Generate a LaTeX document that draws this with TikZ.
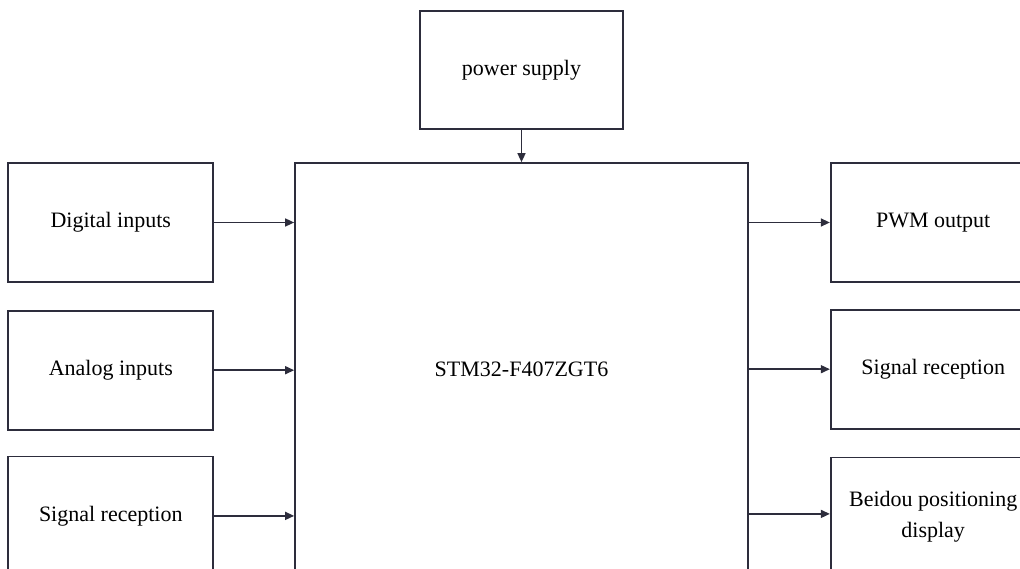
\documentclass[tikz,border=0pt]{standalone}
\usepackage{fontspec}
\setmainfont{Liberation Serif}
\usetikzlibrary{arrows.meta,positioning}
\definecolor{edge}{RGB}{45,45,60}

\begin{document}
\begin{tikzpicture}[
  x=1pt, y=-1pt,
  node distance=26pt and 80pt,
  box/.style={draw=edge, line width=1.7pt, align=center, minimum height=119pt, minimum width=205pt, inner sep=0pt, font=\fontsize{22}{31}\selectfont},
  link/.style={draw=edge, line width=1.5pt, ->},
  >={Triangle[length=9pt,width=8pt]}
]
\useasboundingbox (0,0) rectangle (1020,569);
\clip (0,0) rectangle (1020,569);
\node[box, minimum width=453pt, minimum height=412pt] (mcu) at (521.5,369) {STM32-F407ZGT6};
\node[box, above=32pt of mcu, minimum width=203pt, minimum height=118pt] (pwr) {power supply};
% inputs
\node[box, left=80pt of mcu.north west, anchor=north east] (dig) {Digital inputs};
\node[box, below=27pt of dig] (ana) {Analog inputs};
\node[box, below=25pt of ana] (sigin) {Signal reception};
% outputs
\node[box, right=81pt of mcu.north east, anchor=north west] (pwm) {PWM output};
\node[box, below=26pt of pwm] (sigout) {Signal reception};
\node[box, below=27pt of sigout] (bds) {Beidou positioning\\display};
\draw[link] (pwr) -- (mcu);
\draw[link] (dig) -- (dig -| mcu.west);
\draw[link] (ana) -- (ana -| mcu.west);
\draw[link] (sigin) -- (sigin -| mcu.west);
\draw[link] (pwm -| mcu.east) -- (pwm);
\draw[link] (sigout -| mcu.east) -- (sigout);
\draw[link] ([yshift=3pt]bds.west -| mcu.east) -- ([yshift=3pt]bds.west);
\end{tikzpicture}
\end{document}
